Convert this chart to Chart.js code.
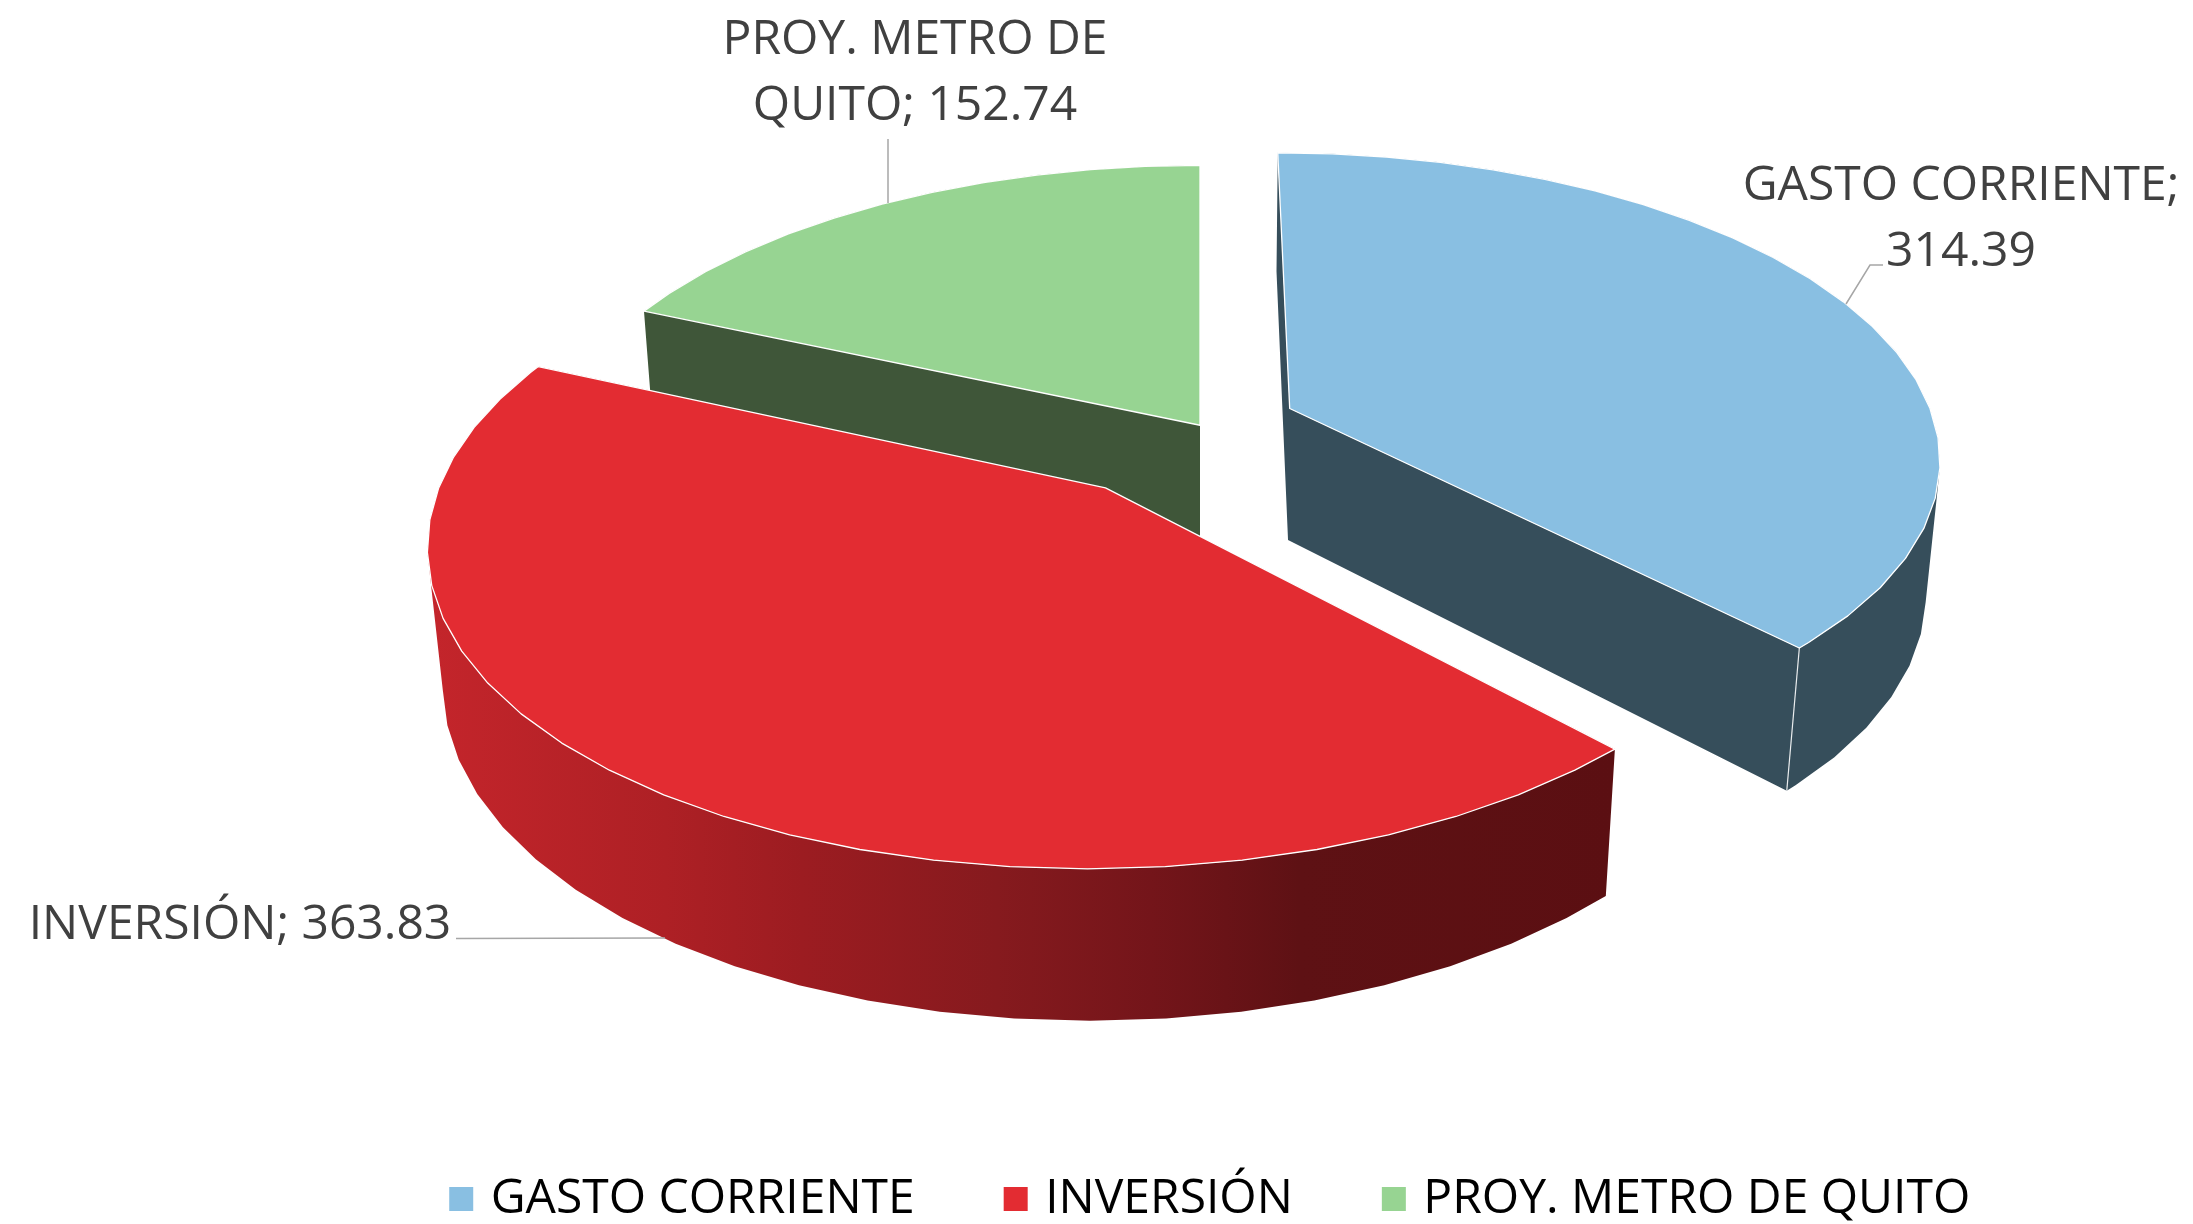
<!DOCTYPE html>
<html>
<head>
<meta charset="utf-8">
<style>html,body{margin:0;padding:0;background:#fff}canvas{display:block}</style>
<script src="https://cdn.jsdelivr.net/npm/chart.js@4"></script>
</head>
<body>
<canvas id="c" width="2193" height="1224"></canvas>
<script>
const categories = ['GASTO CORRIENTE', 'INVERSIÓN', 'PROY. METRO DE QUITO'];
const values = [314.39, 363.83, 152.74];
const explode = [0.151, 0.247, 0];
const topColors = ['#89BFE2', '#E32C32', '#97D492'];
const wallColors = ['#364E5B', null, '#3F5639'];
const labelLines = [['GASTO CORRIENTE;', '314.39'], ['INVERSIÓN; 363.83'], ['PROY. METRO DE', 'QUITO; 152.74']];

const FONT = '"Open Sans"';
const LABEL_SIZE = 48;
// camera used to project the flat pie into the 3D view
const CAM = {zoom: 644 / 424, tilt: 0.4648, persp: 0.155, depth: 0.236, step: Math.PI / 32};
const cosTilt = Math.sqrt(1 - CAM.tilt * CAM.tilt), tanTilt = CAM.tilt / cosTilt;
const gradientStops = [[0, '#C4252B'], [0.2, '#AE2025'], [0.315, '#9C1C21'], [0.48, '#861A1E'], [0.61, '#74151A'], [0.735, '#5E1114'], [1, '#5B0F12']];
const labelPlace = [
  {x: 1961, y: [200, 266], leader: [[1846, 304], [1870, 265], [1883, 265]]},
  {x: 240, y: [939], leader: [[456, 938.5], [665, 938]]},
  {x: 915, y: [54, 120], leader: [[888, 139], [888, 203]]}
];

function project(arc, X, Y, down) {
  const A = arc.outerRadius * CAM.zoom;
  const d = 1 - CAM.persp * Y + (down ? CAM.persp * tanTilt * CAM.depth : 0);
  return [arc.x + A * X / d, arc.y + A * (CAM.tilt * Y + (down ? cosTilt * CAM.depth : 0)) / d];
}
function rimAngles(a0, a1) {
  const out = [a0];
  for (let k = Math.ceil(a0 / CAM.step + 1e-6); k * CAM.step < a1 - 1e-6; k++) out.push(k * CAM.step);
  out.push(a1);
  return out;
}
function trace(ctx, pts) {
  pts.forEach((p, i) => i ? ctx.lineTo(p[0], p[1]) : ctx.moveTo(p[0], p[1]));
  ctx.closePath();
}
function poly(ctx, pts) {
  ctx.beginPath();
  trace(ctx, pts);
}
function traceClockwise(ctx, pts) {
  let area = 0;
  pts.forEach((p, i) => { const q = pts[(i + 1) % pts.length]; area += p[0] * q[1] - q[0] * p[1]; });
  trace(ctx, area < 0 ? pts.slice().reverse() : pts);
}

const pie3d = {
  id: 'pie3d',
  afterLayout(chart) {
    const lg = chart.legend;
    const dx = 13;
    const dy = 1199 - (lg.top + lg.options.labels.padding + LABEL_SIZE / 2);
    lg.left += dx; lg.right += dx; lg.top += dy; lg.bottom += dy;
  },
  beforeDatasetDraw(chart, args) {
    const ctx = chart.ctx;
    const arcs = chart.getDatasetMeta(args.index).data;
    // back to front: metro, gasto, inversion
    [2, 0, 1].forEach(i => {
      const arc = arcs[i];
      const a0 = arc.startAngle, a1 = arc.endAngle, mid = (a0 + a1) / 2;
      const ox = explode[i] * Math.cos(mid), oy = explode[i] * Math.sin(mid);
      const angs = rimAngles(a0, a1);
      const rim = down => angs.map(a => project(arc, ox + Math.cos(a), oy + Math.sin(a), down));
      const apexT = project(arc, ox, oy, false), apexB = project(arc, ox, oy, true);
      const topRim = rim(false), botRim = rim(true);
      const last = topRim.length - 1;
      let wall = wallColors[i];
      if (!wall) {
        const xs = topRim.map(p => p[0]);
        const g = ctx.createLinearGradient(Math.min(...xs), 0, Math.max(...xs), 0);
        gradientStops.forEach(s => g.addColorStop(s[0], s[1]));
        wall = g;
      }
      ctx.save();
      ctx.fillStyle = wall;
      // all wall quads in one consistently wound path
      ctx.beginPath();
      traceClockwise(ctx, [apexT, topRim[0], botRim[0], apexB]);
      traceClockwise(ctx, [apexT, topRim[last], botRim[last], apexB]);
      for (let k = 0; k < last; k++) {
        traceClockwise(ctx, [topRim[k], topRim[k + 1], botRim[k + 1], botRim[k]]);
      }
      ctx.fill('nonzero');
      // corner highlight
      ctx.strokeStyle = 'rgba(255,255,255,0.9)';
      ctx.lineWidth = 1.2;
      ctx.beginPath();
      ctx.moveTo(topRim[last][0], topRim[last][1]);
      ctx.lineTo(botRim[last][0], botRim[last][1]);
      ctx.stroke();
      // top face
      poly(ctx, [apexT].concat(topRim));
      ctx.fillStyle = topColors[i];
      ctx.fill();
      ctx.strokeStyle = '#ffffff';
      ctx.lineWidth = 1.3;
      ctx.lineJoin = 'round';
      ctx.stroke();
      ctx.restore();
    });
    return false;
  },
  afterDraw(chart) {
    const ctx = chart.ctx;
    ctx.save();
    ctx.strokeStyle = '#A6A6A6';
    ctx.lineWidth = 1.5;
    labelPlace.forEach((pl, i) => {
      ctx.beginPath();
      pl.leader.forEach((p, k) => k ? ctx.lineTo(p[0], p[1]) : ctx.moveTo(p[0], p[1]));
      ctx.stroke();
      ctx.fillStyle = '#404040';
      ctx.font = LABEL_SIZE + 'px ' + FONT;
      ctx.textAlign = 'center';
      ctx.textBaseline = 'alphabetic';
      labelLines[i].forEach((t, k) => ctx.fillText(t, pl.x, pl.y[k]));
    });
    ctx.restore();
  }
};

new Chart(document.getElementById('c'), {
  type: 'pie',
  data: {
    labels: categories,
    datasets: [{data: values, backgroundColor: topColors, borderWidth: 0}]
  },
  plugins: [pie3d],
  options: {
    responsive: false,
    animation: false,
    events: [],
    rotation: 0,
    layout: {padding: {left: 207, bottom: 220}},
    plugins: {
      tooltip: {enabled: false},
      legend: {
        position: 'bottom',
        labels: {
          boxWidth: 11,
          boxHeight: 11,
          padding: 95.5,
          color: '#595959',
          font: {family: FONT, size: LABEL_SIZE},
          generateLabels: () => categories.map((t, i) => ({
            text: t, fillStyle: topColors[i], strokeStyle: topColors[i], lineWidth: 13, hidden: false, index: i
          }))
        }
      }
    }
  }
});
</script>
</body>
</html>
